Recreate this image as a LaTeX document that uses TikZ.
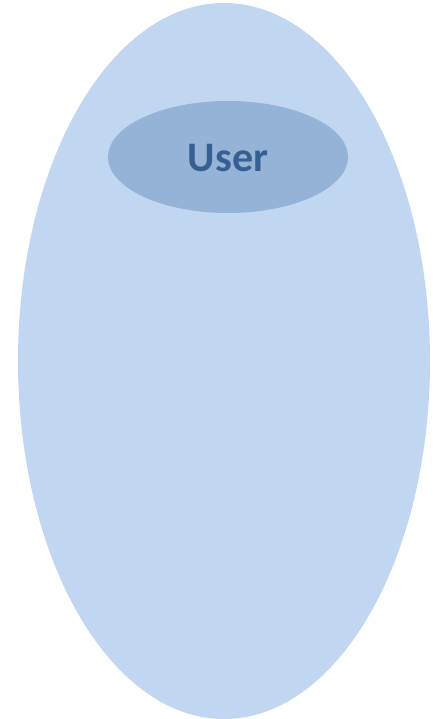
\documentclass[tikz,border=0pt]{standalone}
\usepackage{fontspec}
\setmainfont{Carlito}
\usetikzlibrary{shapes.geometric}
\definecolor{outerfill}{HTML}{C0D6F1}
\definecolor{innerfill}{HTML}{95B3D7}
\definecolor{usertext}{HTML}{366092}
\tikzset{
  outerell/.style={ellipse, fill=outerfill, draw=none, minimum width=412pt, minimum height=716pt, inner sep=0pt},
  innerell/.style={ellipse, fill=innerfill, draw=none, minimum width=240pt, minimum height=112pt, inner sep=0pt},
  labeltext/.style={text=usertext, font=\fontsize{42}{48}\selectfont\bfseries}
}
\begin{document}
\begin{tikzpicture}[x=1pt,y=-1pt]
\useasboundingbox (0,0) rectangle (433,719);
\node[outerell] (outer) at (224,361) {};
\node[innerell] (inner) at (228,157) {};
\node[labeltext] (user) at (228,158) {User};
\end{tikzpicture}
\end{document}
